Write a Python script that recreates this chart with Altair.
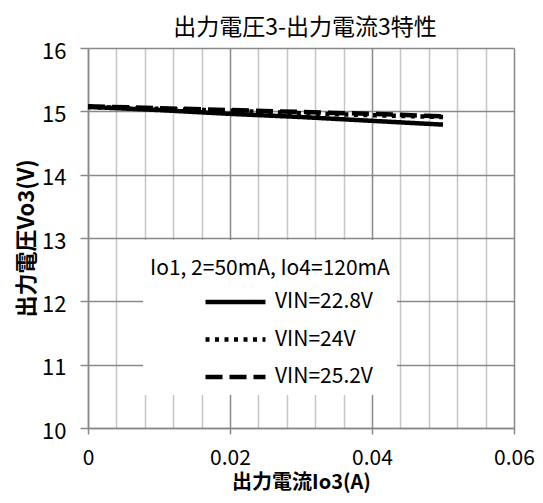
import altair as alt
import pandas as pd

# ---- data ----
current = [0.0, 0.01, 0.02, 0.03, 0.04, 0.05]
v_228 = [15.07, 15.02, 14.96, 14.91, 14.85, 14.79]
v_24 = [15.07, 15.04, 15.01, 14.97, 14.94, 14.91]
v_252 = [15.08, 15.05, 15.02, 14.99, 14.96, 14.92]
series = ["VIN=22.8V", "VIN=24V", "VIN=25.2V"]
x_grid = [0, 0.004, 0.008, 0.012, 0.016, 0.02, 0.024, 0.028, 0.032, 0.036,
          0.04, 0.044, 0.048, 0.052, 0.056, 0.06]
y_ticks = [10, 11, 12, 13, 14, 15, 16]

rows = []
for name, vals in zip(series, [v_228, v_24, v_252]):
    for x, y in zip(current, vals):
        rows.append({"Io3": x, "Vo3": y, "series": name})
df = pd.DataFrame(rows)

FONT = "Noto Sans CJK JP"
MAJOR = "#898989"
MINOR = "#c6c6c6"
is_major = "abs(datum.value * 50 - round(datum.value * 50)) < 0.001"

x_axis = alt.Axis(
    values=x_grid, format="~g",
    labelExpr=f"({is_major}) ? datum.label : ''",
    labelFlush=False, labelOverlap=False,
    grid=True,
    gridColor={"condition": {"test": is_major, "value": MAJOR}, "value": MINOR},
    tickColor={"condition": {"test": is_major, "value": MAJOR}, "value": "transparent"},
    gridWidth=1.5, tickSize=6, tickWidth=1.5,
    domainColor=MAJOR, domainWidth=1.5,
    labelFont=FONT, labelFontSize=21, labelColor="#000", labelPadding=13,
    title="出力電流Io3(A)", titleFont=FONT, titleFontSize=20,
    titleFontWeight="bold", titleColor="#000", titlePadding=4,
)

y_axis = alt.Axis(
    values=y_ticks, grid=True, gridColor=MAJOR, gridWidth=1.5,
    tickSize=8, tickColor=MAJOR, tickWidth=1.5,
    domainColor=MAJOR, domainWidth=1.5,
    labelFlush=False, labelOffset=3,
    labelFont=FONT, labelFontSize=22, labelColor="#000", labelPadding=14,
    title="出力電圧Vo3(V)", titleFont=FONT, titleFontSize=22,
    titleFontWeight="bold", titleColor="#000", titlePadding=3,
)

legend = alt.Legend(
    title=["", "Io1, 2=50mA, Io4=120mA"],
    orient="none", legendX=55, legendY=192,
    fillColor="white", padding=7,
    titleFont=FONT, titleFontSize=21, titleFontWeight="normal",
    titleColor="#000", titleLineHeight=11, titlePadding=12, titleLimit=500,
    labelFont=FONT, labelFontSize=21, labelColor="#000", labelOffset=7,
    labelLimit=300,
    symbolType="stroke", symbolSize=3600, symbolOffset=53,
    symbolStrokeColor="black", symbolStrokeWidth=4.5,
    clipHeight=22, rowPadding=15.5,
)

chart = alt.Chart(df).mark_line(color="black", strokeWidth=4.5, strokeJoin="round").encode(
    x=alt.X("Io3:Q", scale=alt.Scale(domain=[0, 0.06], nice=False), axis=x_axis),
    y=alt.Y("Vo3:Q", scale=alt.Scale(domain=[10, 16], nice=False, zero=False), axis=y_axis),
    strokeDash=alt.StrokeDash(
        "series:N",
        scale=alt.Scale(domain=series, range=[[1, 0], [4, 5.5], [17, 7]]),
        legend=legend,
    ),
).properties(
    width=426, height=380,
    padding={"left": 80, "top": 40, "right": 21, "bottom": 67},
    autosize=alt.AutoSizeParams(type="none"),
    title=alt.TitleParams(
        "出力電圧3-出力電流3特性", font=FONT, fontSize=23, fontWeight="normal",
        color="#000", anchor="middle", offset=0, dx=4,
    ),
).configure_view(stroke="transparent")

chart.save("out.html", embed_options={"renderer": "svg", "actions": False})
